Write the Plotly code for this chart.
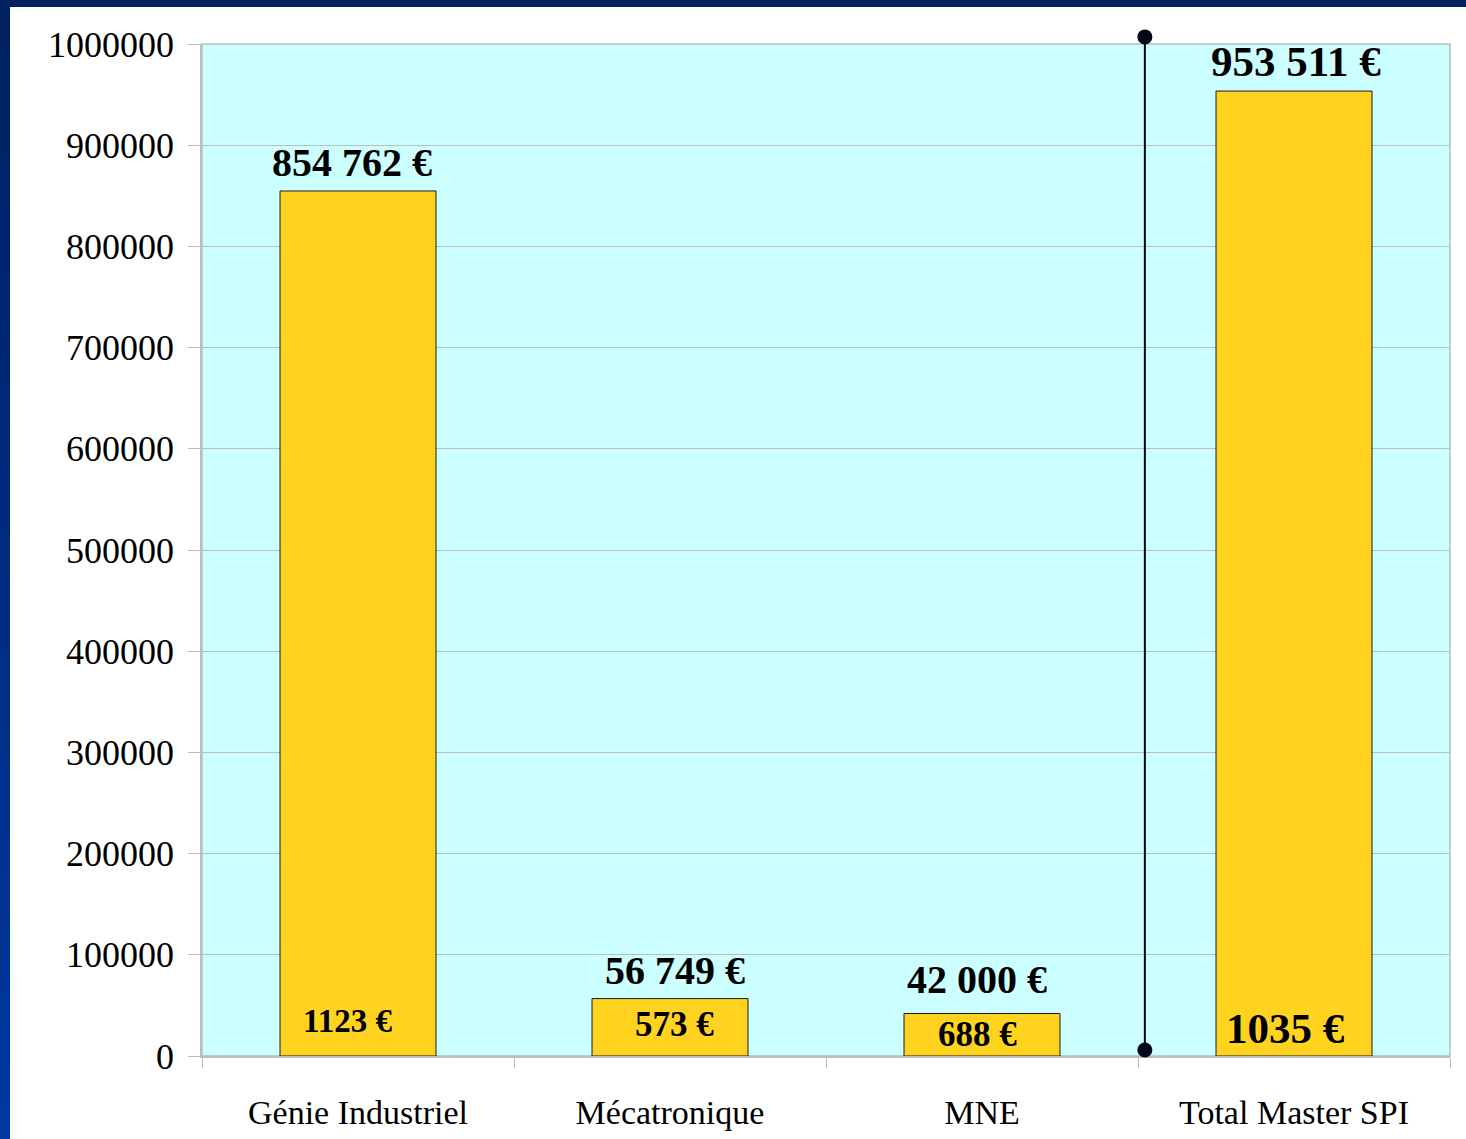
import plotly.graph_objects as go

categories = ["Génie Industriel", "Mécatronique", "MNE", "Total Master SPI"]
totals = [854762, 56749, 42000, 953511]
total_labels = ["854 762 €", "56 749 €", "42 000 €", "953 511 €"]
per_student_labels = ["1123 €", "573 €", "688 €", "1035 €"]
y_ticks = [0, 100000, 200000, 300000, 400000, 500000, 600000, 700000, 800000, 900000, 1000000]

# styling
top_font_sizes = [40, 40, 40, 43]
top_yshift = [4, 4, 10, 4]
inner_font_sizes = [33, 35, 35, 43]
inner_yshift = [35, 32, 22, 28]
inner_xshift = [-11, 4, -5, -9]
top_xshift = [-6, 5, -5, 2]

SERIF = "Liberation Serif, Times New Roman, serif"

fig = go.Figure()
fig.add_trace(go.Bar(
    x=categories, y=totals, width=0.5,
    marker=dict(color="#FFD320", line=dict(color="#1a1a1a", width=1)),
    hoverinfo="skip",
))

annotations = []
for i, c in enumerate(categories):
    annotations.append(dict(
        x=c, y=totals[i], xref="x", yref="y", text="<b>%s</b>" % total_labels[i],
        showarrow=False, yanchor="bottom", yshift=top_yshift[i], xshift=top_xshift[i],
        font=dict(family=SERIF, size=top_font_sizes[i], color="#000000"),
    ))
    annotations.append(dict(
        x=c, y=0, xref="x", yref="y", text="<b>%s</b>" % per_student_labels[i],
        showarrow=False, yanchor="middle", yshift=inner_yshift[i], xshift=inner_xshift[i],
        font=dict(family=SERIF, size=inner_font_sizes[i], color="#000000"),
    ))

shapes = []
# frame: top band and left gradient band
shapes.append(dict(type="rect", xref="paper", yref="paper", xsizemode="pixel", ysizemode="pixel",
                   xanchor=0, yanchor=1, x0=-202, x1=1264, y0=37, y1=44,
                   fillcolor="#002060", line=dict(width=0), layer="above"))
n = 30
top_c = (0, 32, 96)
bot_c = (0, 56, 160)
total_h = 1139 - 7
for k in range(n):
    t = k / (n - 1)
    col = "rgb(%d,%d,%d)" % tuple(round(top_c[j] + (bot_c[j] - top_c[j]) * t) for j in range(3))
    ya = 37 - k * total_h / n
    shapes.append(dict(type="rect", xref="paper", yref="paper", xsizemode="pixel", ysizemode="pixel",
                       xanchor=0, yanchor=1, x0=-202, x1=-192, y0=ya - total_h / n - 1, y1=ya,
                       fillcolor=col, line=dict(width=0), layer="above"))

# separator line with end dots, between MNE and Total
sep_x = 2.522
sep_top = 1.007   # paper fraction (slightly above the plot top)
sep_bot = 0.0059
shapes.append(dict(type="line", xref="x", yref="paper", x0=sep_x, x1=sep_x, y0=sep_bot, y1=sep_top,
                   line=dict(color="#000818", width=2), layer="above"))
for yy in (sep_top, sep_bot):
    shapes.append(dict(type="circle", xref="x", yref="paper", xsizemode="pixel", ysizemode="pixel",
                       xanchor=sep_x, yanchor=yy, x0=-7.5, x1=7.5, y0=-7.5, y1=7.5,
                       fillcolor="#000818", line=dict(width=0), layer="above"))
# plot frame
shapes.append(dict(type="rect", xref="paper", yref="paper", x0=0, x1=1, y0=0, y1=1,
                   line=dict(color="#BDBDBD", width=1.5), layer="below"))

fig.update_layout(
    width=1466, height=1139,
    margin=dict(l=202, r=16, t=44, b=83),
    paper_bgcolor="#FFFFFF", plot_bgcolor="#CCFFFF",
    showlegend=False, bargap=0.5,
    annotations=annotations, shapes=shapes,
    font=dict(family=SERIF, color="#000000"),
)
fig.update_xaxes(
    type="category", tickson="boundaries", ticks="outside", ticklen=10, tickcolor="#BDBDBD",
    showline=True, linecolor="#BDBDBD", linewidth=1.5, showgrid=False, automargin=False,
    tickfont=dict(family=SERIF, size=34, color="#000000"), ticklabelstandoff=25,
)
fig.update_yaxes(
    range=[0, 1000000], tickvals=y_ticks, ticktext=[str(v) for v in y_ticks],
    ticks="outside", ticklen=12, tickcolor="#BDBDBD", automargin=False,
    showline=True, linecolor="#BDBDBD", linewidth=1.5,
    showgrid=True, gridcolor="#BDBDBD", gridwidth=1, zeroline=False,
    tickfont=dict(family=SERIF, size=36, color="#000000"), ticklabelstandoff=7,
)

fig.write_html("out.html", config={"displayModeBar": False},
               post_script="document.body.style.margin='0';document.body.style.overflow='hidden';")
